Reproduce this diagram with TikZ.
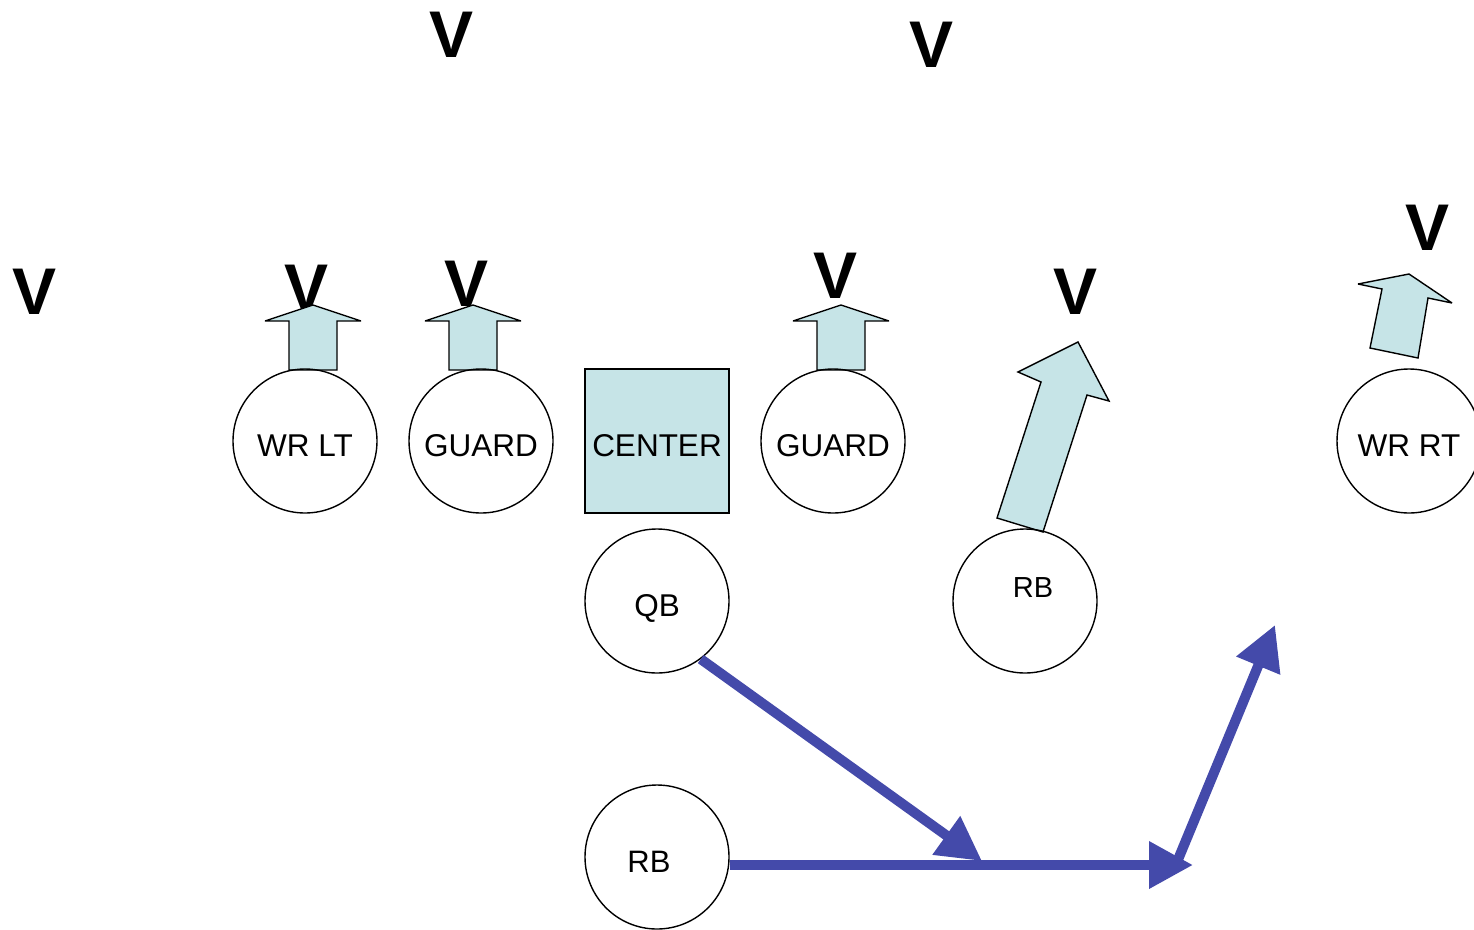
\documentclass[tikz,border=0pt]{standalone}
\usepackage{fontspec}
\setmainfont{Liberation Sans}
\usetikzlibrary{arrows.meta}
\definecolor{boxfill}{RGB}{198,228,231}
\definecolor{route}{RGB}{68,74,170}
\tikzset{
  player/.style={circle, draw=black, line width=1.4pt, minimum size=144pt, inner sep=0pt,
    font=\fontsize{31.5}{31.5}\selectfont, text height=30.5pt, text depth=0pt},
  centerbox/.style={rectangle, draw=black, line width=1.4pt, fill=boxfill, minimum width=144pt,
    minimum height=144pt, inner sep=0pt, font=\fontsize{31.5}{31.5}\selectfont, text height=30.5pt, text depth=0pt},
  defmark/.style={font=\fontsize{66}{66}\selectfont\bfseries, inner sep=0pt, anchor=center},
  block/.style={draw=black, line width=1.4pt, fill=boxfill, line join=miter, miter limit=3},
  routeline/.style={draw=route, line width=10pt, -{Triangle[length=44pt,width=45pt]}},
  txt/.style={font=\fontsize{#1}{#1}\selectfont, inner sep=0pt}
}
\begin{document}
\begin{tikzpicture}[x=1pt,y=-1pt]
\useasboundingbox (0,0) rectangle (1474,929);
% defenders
\node[defmark] (v1) at (451.5,35) {V};
\node[defmark] (v2) at (931,45) {V};
\node[defmark] (v3) at (35,291.5) {V};
\node[defmark] (v4) at (307,288) {V};
\node[defmark] (v5) at (467,284) {V};
\node[defmark] (v6) at (835,276) {V};
\node[defmark] (v7) at (1075,292) {V};
\node[defmark] (v8) at (1427,228) {V};
% block arrows
\draw[block] (289,370) -- (289,321) -- (265,321) -- (313,305) -- (361,321) -- (337,321) -- (337,370) -- cycle;
\draw[block] (449,370) -- (449,321) -- (425,321) -- (473,305) -- (521,321) -- (497,321) -- (497,370) -- cycle;
\draw[block] (817,370) -- (817,321) -- (793,321) -- (841,305) -- (889,321) -- (865,321) -- (865,370) -- cycle;
\draw[block] (997,518) -- (1041,382) -- (1018,372) -- (1078,342) -- (1109,401) -- (1087,395) -- (1043,532) -- cycle;
\draw[block] (1370,348) -- (1382,289) -- (1358,284) -- (1409,274) -- (1452,303) -- (1428,298) -- (1418,358) -- cycle;
% players
\node[player] (wrlt) at (305,441) {WR LT};
\node[player] (guardl) at (481,441) {GUARD};
\node[centerbox] (center) at (657,441) {CENTER};
\node[player] (guardr) at (833,441) {GUARD};
\node[player] (wrrt) at (1409,441) {WR RT};
\node[player] (qb) at (657,601) {QB};
\node[player, label={[txt=29, xshift=8pt, yshift=13pt]center:RB}] (rbr) at (1025,601) {};
\node[player, label={[txt=31, xshift=-8pt, yshift=-5pt]center:RB}] (rbb) at (657,857) {};
% routes
\coordinate (meet) at (982,861);
\coordinate (turn) at (1193,865);
\coordinate (turnfoot) at (1177,862);
\coordinate (goal) at (1275,625);
\draw[routeline] (qb.-53) -- (meet);
\draw[routeline] ([yshift=-8pt]rbb.east) -- (turn);
\draw[routeline] (turnfoot) -- (goal);
\end{tikzpicture}
\end{document}
